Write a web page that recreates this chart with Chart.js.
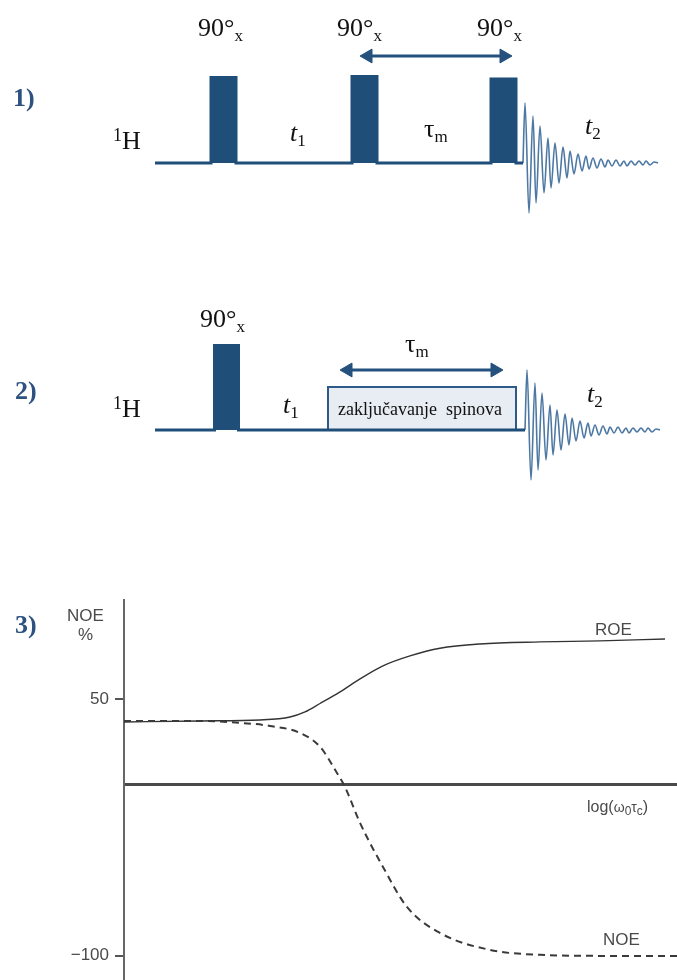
<!DOCTYPE html>
<html>
<head>
<meta charset="utf-8">
<script src="https://cdn.jsdelivr.net/npm/chart.js@4.4.1/dist/chart.umd.min.js"></script>
<style>
body { margin: 0; background: #fff; }
#page { position: relative; width: 677px; height: 980px; overflow: hidden; }
canvas { position: absolute; left: 0; }
.t { position: absolute; white-space: nowrap; line-height: 1; }
.serif { font-family: "Liberation Serif", "Times New Roman", serif; color: #111; }
.sans { font-family: "Liberation Sans", Arial, sans-serif; color: #4a4a4a; }
.num { font-weight: bold; color: #2d5181; }
.sb { font-size: 17px; position: relative; top: 5px; }
.sp { font-size: 18px; position: relative; top: -8px; }
.ssb { font-size: 12px; position: relative; top: 3px; }
</style>
</head>
<body>
<div id="page">
  <canvas id="c1" width="677" height="230" style="top:0px"></canvas>
  <canvas id="c2" width="677" height="210" style="top:290px"></canvas>
  <canvas id="c3" width="677" height="390" style="top:590px"></canvas>
</div>
<script>
// sequence 1 (NOESY): timeline, three 90x pulses
const seq1Line = [155, 523];
const seq1PulseStart = [211, 352, 491];
const seq1PulseEnd = [236, 377, 516];
const seq1PulseHeight = [85.5, 86.5, 84];
const seq1Mix = [368, 504];
const seq1MixLevel = 107;

// sequence 2 (ROESY): one pulse and a spin-lock block
const seq2Line = [155, 525];
const seq2PulseStart = [214.5];
const seq2PulseEnd = [238.5];
const seq2PulseHeight = [84.5];
const seq2Lock = [328, 516];
const seq2LockHeight = 43;
const seq2Mix = [348, 495];
const seq2MixLevel = 60;

// FID (acquisition t2), time after the last pulse and amplitude
const fidT = [0, 2, 6, 10, 13, 17, 21, 25, 28, 32, 36, 40, 44, 47, 51, 55, 59, 63, 66, 70,
  74, 78, 82, 85, 89, 93, 97, 101, 104, 108, 112, 116, 120, 123, 127, 131, 135];
const fidA = [0, 60, -50, 47, -40, 37, -30, 25, -25, 20, -20, 16, -15, 12, -11, 9, -8, 7, -6, 5,
  -5, 4, -4, 3, -3, 3, -3, 2, -3, 2, -2, 2, -2, 2, -2, 1, 0];

// panel 3: NOE / ROE vs log(w0 tc)
const roeX = [-2.4, -1.575, -0.924, -0.599, -0.436, -0.273, -0.056, 0.161, 0.410, 0.703, 1.028, 1.462, 2.113, 2.764, 3.470];
const roeY = [36.5, 37.1, 37.7, 39.4, 42.4, 47.3, 54.1, 61.7, 69.3, 75.1, 79.6, 82.1, 83.3, 83.9, 85.0];
const noeX = [-2.4, -1.575, -1.141, -0.816, -0.490, -0.273, -0.089, -0.002, 0.161, 0.410, 0.670, 1.028, 1.571, 2.113, 2.764, 3.6];
const noeY = [37.1, 37.1, 36.0, 34.2, 30.1, 22.0, 6.7, -1.5, -22.5, -48.2, -71.6, -86.8, -96.7, -99.6, -100.2, -100.2];
const yTicks = [50, -100];

const pulseColor = '#1f4e79';
const lineColor = '#24517d';
const fidColor = '#4d78a3';

function pulseTrain(line, ps, pe, ph) {
    const pts = [{ x: line[0], y: 0 }];
    ps.forEach((s, i) => {
        pts.push({ x: s, y: 0 }, { x: s, y: ph[i] }, { x: pe[i], y: ph[i] }, { x: pe[i], y: 0 });
    });
    pts.push({ x: line[1], y: 0 });
    return pts;
}

function fidPoints(start) {
    return fidT.map((t, i) => ({ x: start + t, y: fidA[i] }));
}

function arrowSet(span, level) {
    return {
        data: [{ x: span[0], y: level }, { x: span[1], y: level }],
        borderColor: lineColor,
        borderWidth: 3,
        pointStyle: 'triangle',
        pointRadius: 8,
        pointBackgroundColor: lineColor,
        pointBorderColor: lineColor,
        pointBorderWidth: 1,
        pointRotation: ctx => ctx.dataIndex === 0 ? -90 : 90,
        order: 0
    };
}

function seqChart(id, yMin, yMax, datasets) {
    return new Chart(document.getElementById(id), {
        type: 'line',
        data: { datasets: datasets },
        options: {
            responsive: false,
            animation: false,
            events: [],
            layout: { padding: 0, autoPadding: false },
            elements: { point: { radius: 0 } },
            plugins: { legend: { display: false }, tooltip: { enabled: false } },
            scales: {
                x: { type: 'linear', min: 0, max: 677, display: false },
                y: { min: yMin, max: yMax, display: false }
            }
        }
    });
}

seqChart('c1', -67, 163, [
    { data: fidPoints(seq1Line[1]), borderColor: fidColor, borderWidth: 1.6, cubicInterpolationMode: 'monotone', pointRadius: 0, order: 2 },
    arrowSet(seq1Mix, seq1MixLevel),
    { data: pulseTrain(seq1Line, seq1PulseStart, seq1PulseEnd, seq1PulseHeight), borderColor: pulseColor, backgroundColor: pulseColor, borderWidth: 3, fill: 'origin', pointRadius: 0, order: 1 }
]);

seqChart('c2', -70, 140, [
    { data: fidPoints(seq2Line[1]), borderColor: fidColor, borderWidth: 1.6, cubicInterpolationMode: 'monotone', pointRadius: 0, order: 2 },
    arrowSet(seq2Mix, seq2MixLevel),
    { data: pulseTrain(seq2Line, seq2PulseStart, seq2PulseEnd, seq2PulseHeight), borderColor: pulseColor, backgroundColor: pulseColor, borderWidth: 3, fill: 'origin', pointRadius: 0, order: 1 },
    { data: [{ x: seq2Lock[0], y: 0 }, { x: seq2Lock[0], y: seq2LockHeight }, { x: seq2Lock[1], y: seq2LockHeight }, { x: seq2Lock[1], y: 0 }],
      borderColor: '#2e5a88', backgroundColor: '#e8edf3', borderWidth: 2, fill: 'origin', pointRadius: 0, order: 3 }
]);

function noPad(axis) {
    axis.paddingTop = 0;
    axis.paddingBottom = 0;
    axis.paddingLeft = 0;
    axis.paddingRight = 0;
}

new Chart(document.getElementById('c3'), {
    type: 'line',
    data: {
        datasets: [
            { label: 'NOE', data: noeX.map((x, i) => ({ x: x, y: noeY[i] })), borderColor: '#3a3a3a', borderWidth: 2, borderDash: [7, 5], cubicInterpolationMode: 'monotone', pointRadius: 0 },
            { label: 'ROE', data: roeX.map((x, i) => ({ x: x, y: roeY[i] })), borderColor: '#333', borderWidth: 1.4, cubicInterpolationMode: 'monotone', pointRadius: 0 }
        ]
    },
    options: {
        responsive: false,
        animation: false,
        events: [],
        layout: { padding: { top: 10, left: 0, right: 0, bottom: 0 }, autoPadding: false },
        plugins: { legend: { display: false }, tooltip: { enabled: false } },
        scales: {
            x: {
                type: 'linear', min: -2.4, max: 3.6, position: { y: 0 },
                afterFit: noPad,
                ticks: { display: false },
                grid: { display: false },
                border: { color: '#4a4a4a', width: 3 }
            },
            y: {
                min: -114.3, max: 107.8,
                afterBuildTicks: axis => { axis.ticks = yTicks.map(v => ({ value: v })); },
                afterFit: axis => { axis.width = 124; noPad(axis); },
                ticks: {
                    color: '#4a4a4a', padding: 6,
                    font: { family: '"Liberation Sans", Arial, sans-serif', size: 17 },
                    callback: v => v < 0 ? '\u2212' + Math.abs(v) : String(v)
                },
                grid: { drawOnChartArea: false, tickLength: 9, color: '#555', lineWidth: 2 },
                border: { color: '#666', width: 2 }
            }
        }
    }
});

const page = document.getElementById('page');
function label(html, x, base, size, cls) {
    const d = document.createElement('div');
    d.className = 't ' + cls;
    d.style.left = x + 'px';
    d.style.top = (base - 0.84 * size) + 'px';
    d.style.fontSize = size + 'px';
    d.innerHTML = html;
    page.appendChild(d);
}

// panel 1
label('1)', 13, 107, 26, 'serif num');
label('90°<span class="sb">x</span>', 198, 37, 26, 'serif');
label('90°<span class="sb">x</span>', 337, 37, 26, 'serif');
label('90°<span class="sb">x</span>', 477, 37, 26, 'serif');
label('<span class="sp">1</span>H', 113, 150, 26, 'serif');
label('<i>t</i><span class="sb">1</span>', 290, 142, 26, 'serif');
label('τ<span class="sb">m</span>', 424, 138, 26, 'serif');
label('<i>t</i><span class="sb">2</span>', 585, 135, 26, 'serif');

// panel 2
label('2)', 15, 400, 26, 'serif num');
label('90°<span class="sb">x</span>', 200, 328, 26, 'serif');
label('<span class="sp">1</span>H', 113, 418, 26, 'serif');
label('<i>t</i><span class="sb">1</span>', 283, 414, 26, 'serif');
label('τ<span class="sb">m</span>', 405, 353, 26, 'serif');
label('<i>t</i><span class="sb">2</span>', 587, 403, 26, 'serif');
label('zaključavanje&nbsp; spinova', 338, 415, 18, 'serif');

// panel 3
label('3)', 15, 634, 26, 'serif num');
label('NOE', 67, 621, 17, 'sans');
label('%', 78, 640, 17, 'sans');
label('ROE', 595, 635, 17, 'sans');
label('NOE', 603, 945, 17, 'sans');
label('log(<span style="font-size:14px">ω</span><span class="ssb">0</span><span style="font-size:14px">τ</span><span class="ssb">c</span>)', 587, 812, 16, 'sans');
</script>
</body>
</html>
